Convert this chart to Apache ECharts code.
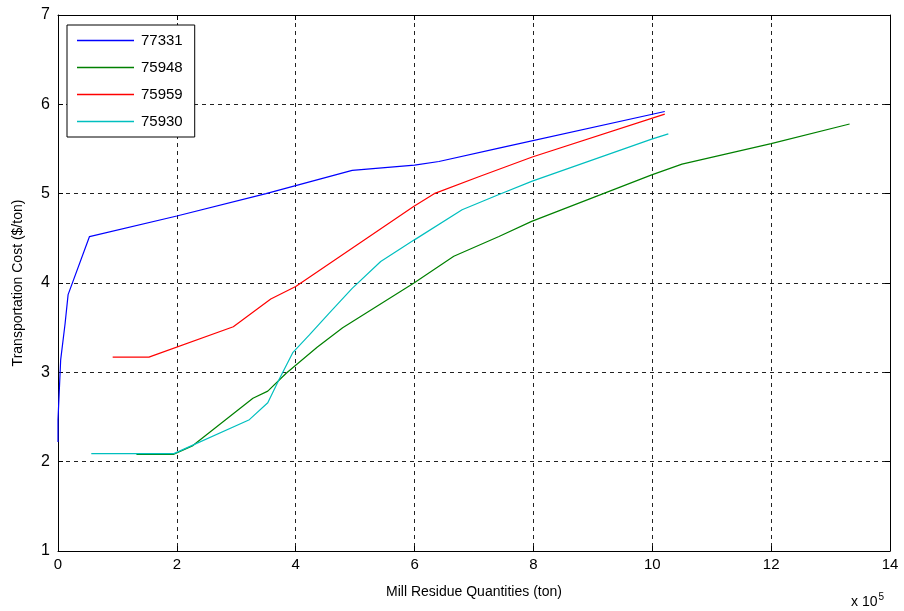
<!DOCTYPE html>
<html><head><meta charset="utf-8">
<script src="https://cdn.jsdelivr.net/npm/echarts@6/dist/echarts.min.js"></script>
<style>html,body{margin:0;padding:0;background:#fff}#c{width:904px;height:611px}</style>
</head><body><div id="c"></div>
<script>
var seriesNames = ['77331', '75948', '75959', '75930'];
var seriesColors = ['#0000ff', '#008000', '#ff0000', '#00bfbf'];
// x in units of 10^5 ton, y in $/ton
var x77331 = [0.00, 0.00, 0.045, 0.12, 0.17, 0.53, 2.0, 3.5, 4.95, 6.0, 6.41, 7.42, 10.21];
var y77331 = [2.22, 2.47, 3.14, 3.55, 3.87, 4.52, 4.75, 5.00, 5.26, 5.32, 5.36, 5.51, 5.92];
var x75948 = [1.32, 1.94, 2.27, 3.28, 3.53, 3.84, 4.36, 4.79, 5.99, 6.66, 7.42, 7.97, 9.99, 10.5, 12.0, 13.32];
var y75948 = [2.08, 2.08, 2.18, 2.71, 2.79, 2.99, 3.28, 3.50, 4.00, 4.30, 4.52, 4.69, 5.21, 5.33, 5.56, 5.78];
var x75959 = [0.92, 1.53, 2.95, 3.58, 4.00, 5.99, 6.33, 7.08, 7.98, 10.21];
var y75959 = [3.17, 3.17, 3.51, 3.82, 3.96, 4.86, 5.00, 5.19, 5.41, 5.89];
var x75930 = [0.56, 1.95, 3.22, 3.53, 3.72, 3.95, 4.23, 4.56, 4.95, 5.43, 5.99, 6.80, 7.42, 7.98, 9.99, 10.27];
var y75930 = [2.09, 2.09, 2.47, 2.66, 2.92, 3.22, 3.42, 3.66, 3.94, 4.24, 4.48, 4.82, 4.99, 5.14, 5.61, 5.67];
var xTicks = [0, 2, 4, 6, 8, 10, 12, 14];
var yTicks = [1, 2, 3, 4, 5, 6, 7];

function pairs(xs, ys) { return xs.map(function (x, i) { return [x, ys[i]]; }); }
var allX = [x77331, x75948, x75959, x75930];
var allY = [y77331, y75948, y75959, y75930];

var font = '"Liberation Sans", Arial, sans-serif';
var chart = echarts.init(document.getElementById('c'), null, {renderer: 'canvas'});
var gridCfg = {left: 58, right: 14, top: 15, bottom: 60};
var axisBase = {
  type: 'value',
  axisLine: {show: true, onZero: false, lineStyle: {color: '#000', width: 1}},
  axisTick: {show: true, inside: true, length: 5, lineStyle: {color: '#000'}},
  splitLine: {show: false}
};
var lineIcon = 'path://M0,0 L57,0 L57,1.3 L0,1.3 Z';
chart.setOption({
  animation: false,
  backgroundColor: '#fff',
  grid: gridCfg,
  legend: {
    orient: 'vertical', left: 67, top: 25,
    data: seriesNames.map(function (n) { return {name: n, icon: lineIcon}; }),
    backgroundColor: '#fff', borderColor: '#000', borderWidth: 1,
    padding: [8, 12, 8, 10], itemGap: 12, itemWidth: 57, itemHeight: 14,
    textStyle: {fontFamily: font, fontSize: 15, color: '#000', padding: [0, 0, 0, 2]}
  },
  xAxis: [
    Object.assign({}, axisBase, {
      position: 'bottom', min: xTicks[0], max: xTicks[xTicks.length - 1], interval: 2,
      name: 'Mill Residue Quantities (ton)', nameLocation: 'middle', nameGap: 34,
      nameTextStyle: {fontFamily: font, fontSize: 14, color: '#000'},
      axisLabel: {fontFamily: font, fontSize: 15, color: '#000', margin: 6},
      splitLine: {show: true, lineStyle: {color: '#222', type: [4, 4], width: 1}}
    }),
    Object.assign({}, axisBase, {
      position: 'top', min: 0, max: 14, interval: 2, axisLabel: {show: false}
    })
  ],
  yAxis: [
    Object.assign({}, axisBase, {
      position: 'left', min: yTicks[0], max: yTicks[yTicks.length - 1], interval: 1,
      name: 'Transportation Cost ($/ton)', nameLocation: 'middle', nameGap: 33,
      nameTextStyle: {fontFamily: font, fontSize: 14, color: '#000'},
      axisLabel: {fontFamily: font, fontSize: 16, color: '#000', margin: 8},
      splitLine: {show: true, lineStyle: {color: '#222', type: [4, 4], width: 1}}
    }),
    Object.assign({}, axisBase, {
      position: 'right', min: 1, max: 7, interval: 1, axisLabel: {show: false}
    })
  ],
  graphic: [{
    type: 'text', left: 851, top: 592,
    style: {
      text: '{a|x 10}{b|5}',
      rich: {
        a: {fontFamily: font, fontSize: 14, fill: '#000'},
        b: {fontFamily: font, fontSize: 10, fill: '#000', verticalAlign: 'top', padding: [0, 0, 10, 1]}
      }
    }
  }],
  series: seriesNames.map(function (n, i) {
    return {
      name: n, type: 'line', xAxisIndex: 0, yAxisIndex: 0,
      data: pairs(allX[i], allY[i]), showSymbol: false, symbol: 'none',
      lineStyle: {color: seriesColors[i], width: 1.2},
      itemStyle: {color: seriesColors[i]}
    };
  })
});
</script></body></html>
